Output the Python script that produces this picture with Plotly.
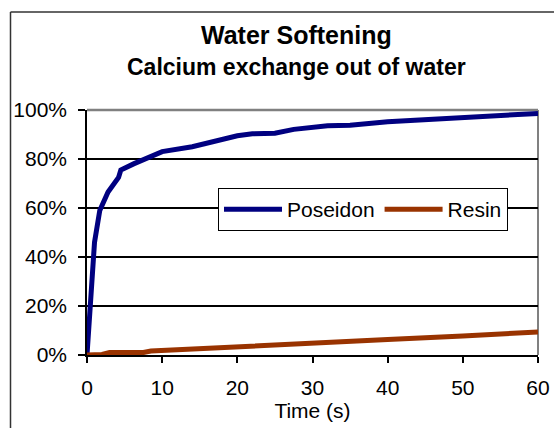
import plotly.graph_objects as go

# Data
poseidon_t = [0, 0.5, 1, 1.7, 2.8, 4.2, 4.5, 6.2, 8, 10, 14, 20, 22, 25, 27.5, 32, 35, 40, 60]
poseidon_pct = [0, 25, 46, 59, 66.5, 72.5, 75.5, 78, 80.5, 83, 85, 89.5, 90.3, 90.5, 92.1, 93.6, 93.8, 95.2, 98.6]

resin_t = [0, 2, 3, 7.5, 8.5, 10, 20, 30, 40, 50, 60]
resin_pct = [0, 0.2, 1.0, 1.0, 1.6, 1.8, 3.3, 4.8, 6.3, 7.8, 9.4]

x_ticks = [0, 10, 20, 30, 40, 50, 60]
y_ticks = [0, 20, 40, 60, 80, 100]
y_tick_labels = ["0%", "20%", "40%", "60%", "80%", "100%"]

title_main = "Water Softening"
title_sub = "Calcium exchange out of water"
x_title = "Time (s)"

W, H = 554, 428
L, R, T, B = 87, 538, 110, 355


def px(x):
    return (x - L) / (R - L)


def py(y):
    return (B - y) / (B - T)


FONT = "Liberation Sans, Arial, sans-serif"

fig = go.Figure()
fig.add_trace(go.Scatter(x=poseidon_t, y=poseidon_pct, mode="lines", name="Poseidon",
                         line=dict(color="#000080", width=5)))
fig.add_trace(go.Scatter(x=resin_t, y=resin_pct, mode="lines", name="Resin",
                         line=dict(color="#993300", width=5)))

fig.update_layout(
    width=W, height=H,
    margin=dict(l=L, r=W - R, t=T, b=H - B, autoexpand=False),
    paper_bgcolor="white", plot_bgcolor="white",
    font=dict(family=FONT, size=21, color="black"),
    showlegend=True,
    legend=dict(orientation="h", x=px(218), y=py(188), xanchor="left", yanchor="top",
                bgcolor="white", bordercolor="black", borderwidth=1,
                font=dict(size=21), itemwidth=58, tracegroupgap=0),
    xaxis=dict(range=[0, 60], tickvals=x_ticks, showgrid=False, zeroline=False,
               automargin=False,
               showline=True, linecolor="black", linewidth=1.5,
               ticks="outside", ticklen=6, tickcolor="black", tickwidth=1.5,
               ticklabelstandoff=7,
               title=dict(text=x_title, font=dict(size=21), standoff=0)),
    yaxis=dict(range=[0, 100], tickvals=y_ticks, ticktext=y_tick_labels,
               automargin=False,
               showgrid=True, gridcolor="black", gridwidth=1.5, zeroline=False,
               showline=True, linecolor="black", linewidth=1.5,
               ticks="outside", ticklen=7, tickcolor="black", tickwidth=1.5,
               ticklabelstandoff=7),
)

fig.add_annotation(text="<b>" + title_main + "</b>", xref="paper", yref="paper",
                   x=px(296), y=py(35), xanchor="center", yanchor="middle",
                   showarrow=False, font=dict(size=25, family=FONT))
fig.add_annotation(text="<b>" + title_sub + "</b>", xref="paper", yref="paper",
                   x=px(296.5), y=py(67), xanchor="center", yanchor="middle",
                   showarrow=False, font=dict(size=23, family=FONT))

# plot-area border (gray) on top and right
fig.add_shape(type="line", xref="paper", yref="paper", x0=0, x1=1, y0=1, y1=1,
              line=dict(color="#808080", width=2.5), layer="between")
fig.add_shape(type="line", xref="paper", yref="paper", x0=1, x1=1, y0=0, y1=1,
              line=dict(color="#808080", width=2), layer="between")
# outer chart border (top and left visible)
fig.add_shape(type="line", xref="paper", yref="paper", x0=px(10.5), x1=px(600),
              y0=py(12), y1=py(12), line=dict(color="#333333", width=1.5))
fig.add_shape(type="line", xref="paper", yref="paper", x0=px(10.5), x1=px(10.5),
              y0=py(12), y1=py(500), line=dict(color="#333333", width=1.5))

fig.write_html("out.html", config={"displayModeBar": False},
               post_script="document.body.style.margin='0';")
